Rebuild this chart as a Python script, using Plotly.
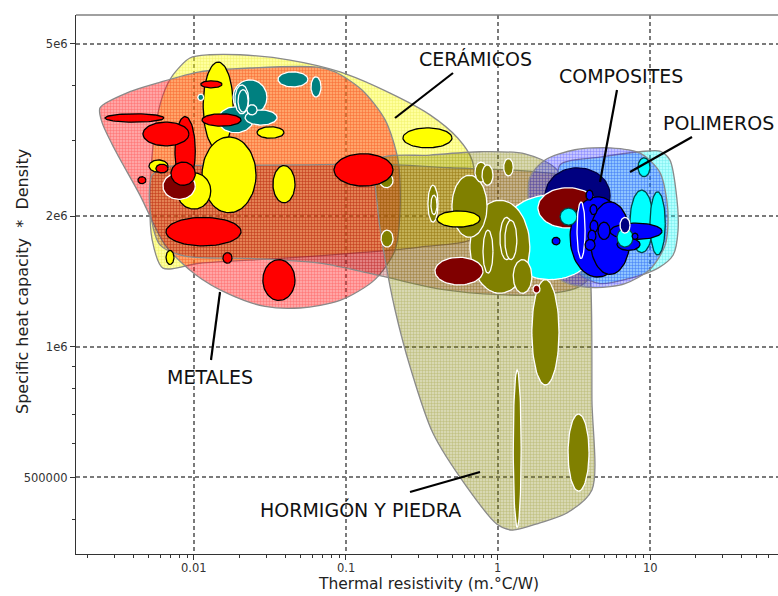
import numpy as np
import plotly.graph_objects as go

# ---------------- data ----------------
# Material-family envelopes (thermal resistivity [m.°C/W], Cp*rho [J/m3.K])
env_names = ["CERAMICOS", "METALES", "BANDA", "HORMIGON", "POLIMEROS", "COMPOSITES"]
env_ceram_x = [0.00728, 0.00941, 0.0127, 0.0201, 0.0428, 0.0914, 0.195, 0.357, 0.545, 0.675, 0.717, 0.695,
               0.307, 0.124, 0.0368, 0.0109, 0.00625, 0.0053, 0.00514, 0.00554, 0.00625]
env_ceram_y = [4.24e6, 4.64e6, 4.72e6, 4.72e6, 4.59e6, 4.31e6, 3.85e6, 3.43e6, 3.03e6, 2.70e6, 2.18e6, 1.79e6,
               1.70e6, 1.65e6, 1.60e6, 1.56e6, 1.52e6, 1.77e6, 2.30e6, 3.17e6, 3.81e6]
env_metal_x = [0.00241, 0.00379, 0.00571, 0.0109, 0.0234, 0.0645, 0.0847, 0.127, 0.181, 0.220, 0.227, 0.210,
               0.155, 0.0914, 0.0498, 0.0293, 0.0173, 0.0102, 0.00645, 0.00441, 0.00302, 0.00248]
env_metal_y = [3.56e6, 3.88e6, 4.06e6, 4.31e6, 4.40e6, 4.42e6, 4.31e6, 3.92e6, 3.34e6, 2.70e6, 2.07e6, 1.67e6,
               1.43e6, 1.28e6, 1.23e6, 1.24e6, 1.32e6, 1.47e6, 1.72e6, 2.24e6, 2.85e6, 3.30e6]
env_band_x = [0.0053, 0.00645, 0.0148, 0.0498, 0.167, 0.483, 1.20, 2.56, 4.35, 5.46, 4.69, 3.46,
              1.89, 1.03, 0.415, 0.167, 0.0675, 0.0234, 0.00873, 0.00597, 0.00514]
env_band_y = [2.49e6, 2.60e6, 2.62e6, 2.63e6, 2.64e6, 2.59e6, 2.56e6, 2.49e6, 2.30e6, 1.96e6, 1.55e6, 1.38e6,
              1.32e6, 1.32e6, 1.36e6, 1.46e6, 1.56e6, 1.60e6, 1.62e6, 1.72e6, 2.07e6]
env_stone_x = [0.162, 0.357, 0.762, 1.505, 2.37, 3.46, 4.03, 4.15, 4.15, 2.84, 1.89, 1.24,
               0.985, 0.625, 0.373, 0.264, 0.210, 0.181, 0.162]
env_stone_y = [2.70e6, 2.77e6, 2.82e6, 2.79e6, 2.59e6, 2.07e6, 1.51e6, 7.55e5, 4.68e5, 4.14e5, 3.93e5, 3.78e5,
               3.90e5, 4.75e5, 6.33e5, 9.0e5, 1.22e6, 1.59e6, 2.07e6]
env_poly_x = [2.56, 4.69, 8.60, 11.6, 13.5, 14.8, 15.3, 14.2, 11.3, 7.39, 4.69, 3.46, 2.98, 2.56]
env_poly_y = [2.63e6, 2.74e6, 2.82e6, 2.83e6, 2.70e6, 2.30e6, 1.86e6, 1.63e6, 1.52e6, 1.44e6, 1.40e6, 1.47e6,
              1.77e6, 2.18e6]
env_comp_x = [1.62, 2.04, 3.21, 5.46, 8.60, 11.6, 13.1, 12.6, 10.0, 6.85, 4.35, 2.76, 1.89, 1.62]
env_comp_y = [2.46e6, 2.70e6, 2.85e6, 2.88e6, 2.80e6, 2.53e6, 2.07e6, 1.72e6, 1.51e6, 1.40e6, 1.37e6, 1.41e6,
              1.59e6, 1.96e6]

# Individual materials: property ranges (min/max) and family
mat_group = [
    "polymer_w", "navy", "darkred", "blue", "blue", "polymer", "blue", "blue", "blue", "blue_ring",
    "blue", "blue", "blue", "blue", "polymer", "polymer", "blue", "blue", "polymer", "navy_ring",
    "blue", "polymer",
    "stone", "stone", "stone", "stone", "stone", "stone", "stone", "stone", "stone", "stone",
    "stone", "stone", "stone", "stone", "stone", "stone", "ceramic", "ceramic", "darkred", "darkred",
    "metal", "metal", "metal", "ceramic", "metal", "ceramic", "ceramic", "teal", "teal", "ceramic",
    "ceramic", "teal", "teal", "teal", "teal", "teal", "teal", "teal", "metal", "metal",
    "metal", "metal", "metal", "ceramic", "metal", "metal", "ceramic", "darkred", "metal",
]
mat_x_lo = [
    1.03, 2.04, 1.83, 2.98, 4.03, 2.56, 2.27, 3.79, 4.03, 3.31,
    4.03, 3.91, 4.55, 3.74, 7.39, 10.0, 5.46, 6.07, 6.07, 6.35,
    7.62, 8.34,
    0.654, 0.498, 0.706, 0.785, 1.09, 0.346, 0.362, 0.797, 1.03, 1.11,
    1.26, 0.167, 0.170, 1.67, 1.26, 2.89, 0.397, 0.237, 0.385, 1.70,
    0.0834, 0.0284, 0.00655, 0.00655, 0.0155, 0.0331, 0.0260, 0.0357, 0.0589, 0.0115,
    0.0113, 0.0181, 0.0144, 0.0217, 0.0186, 0.0195, 0.0223, 0.0106, 0.0111, 0.0113,
    0.0026, 0.0075, 0.00462, 0.00506, 0.00562, 0.00428, 0.00773, 0.00625, 0.00706,
]
mat_x_hi = [
    4.69, 5.46, 4.55, 6.85, 7.39, 3.31, 2.56, 4.22, 4.48, 3.74,
    4.55, 4.41, 5.46, 4.35, 10.5, 12.6, 12.0, 8.60, 7.73, 7.39,
    8.34, 10.0,
    1.62, 0.847, 0.847, 0.927, 1.26, 0.403, 0.397, 0.927, 1.26, 1.33,
    1.67, 0.204, 0.204, 2.52, 1.42, 3.97, 0.762, 0.498, 0.797, 1.89,
    0.204, 0.0462, 0.0204, 0.00739, 0.0178, 0.0462, 0.0391, 0.0562, 0.0685, 0.0181,
    0.0256, 0.0302, 0.0245, 0.0352, 0.0229, 0.0227, 0.0260, 0.0116, 0.0153, 0.0204,
    0.00635, 0.0102, 0.00927, 0.00675, 0.00675, 0.00483, 0.0129, 0.0102, 0.0102,
]
mat_y_lo = [
    1.43e6, 1.93e6, 1.88e6, 1.45e6, 1.47e6, 1.91e6, 1.72e6, 2.18e6, 2.02e6, 1.60e6,
    1.84e6, 1.75e6, 1.77e6, 1.67e6, 1.65e6, 1.63e6, 1.77e6, 1.67e6, 1.70e6, 1.83e6,
    1.77e6, 2.47e6,
    1.33e6, 1.79e6, 2.40e6, 2.36e6, 2.48e6, 1.94e6, 2.02e6, 1.48e6, 1.59e6, 1.59e6,
    1.33e6, 2.33e6, 1.70e6, 8.17e5, 3.84e5, 4.65e5, 1.89e6, 2.88e6, 1.39e6, 1.33e6,
    2.35e6, 1.28e6, 1.71e6, 1.55e6, 1.56e6, 2.15e6, 3.03e6, 3.98e6, 3.77e6, 2.85e6,
    2.04e6, 3.43e6, 3.12e6, 3.25e6, 3.45e6, 3.48e6, 3.43e6, 3.70e6, 3.96e6, 3.23e6,
    3.30e6, 2.36e6, 2.91e6, 2.53e6, 2.52e6, 2.38e6, 2.08e6, 2.19e6, 2.36e6,
]
mat_y_hi = [
    2.24e6, 2.59e6, 2.33e6, 2.22e6, 2.16e6, 2.09e6, 1.79e6, 2.30e6, 2.13e6, 2.16e6,
    1.96e6, 1.86e6, 1.94e6, 1.77e6, 2.30e6, 2.28e6, 1.93e6, 1.78e6, 1.88e6, 1.99e6,
    1.83e6, 2.73e6,
    2.18e6, 2.49e6, 2.67e6, 2.63e6, 2.72e6, 2.36e6, 2.24e6, 1.86e6, 1.99e6, 1.96e6,
    1.59e6, 2.51e6, 1.86e6, 1.43e6, 8.85e5, 7.0e5, 2.06e6, 3.20e6, 1.61e6, 1.39e6,
    2.79e6, 1.59e6, 1.99e6, 1.67e6, 1.65e6, 2.62e6, 3.22e6, 4.31e6, 4.20e6, 4.54e6,
    3.05e6, 4.13e6, 3.58e6, 3.52e6, 4.02e6, 3.92e6, 3.62e6, 3.83e6, 4.11e6, 3.45e6,
    3.45e6, 3.40e6, 3.30e6, 2.70e6, 2.64e6, 2.47e6, 2.52e6, 2.52e6, 2.67e6,
]

x_tick_vals = [0.01, 0.1, 1, 10]
x_tick_text = ["0.01", "0.1", "1", "10"]
y_tick_vals = [5e5, 1e6, 2e6, 5e6]
y_tick_text = ["500000", "1e6", "2e6", "5e6"]
x_minor_vals = [m * 10.0 ** e for e in range(-3, 2) for m in range(2, 10)]
y_minor_vals = [4e5, 6e5, 7e5, 8e5, 9e5, 3e6, 4e6]

labels = ["CERÁMICOS", "COMPOSITES", "POLIMEROS", "METALES", "HORMIGÓN Y PIEDRA"]

# ---------------- styles ----------------
ENV_STYLE = {
    "CERAMICOS": ("rgba(255,255,0,0.38)", "rgba(215,215,0,1)"),
    "METALES": ("rgba(255,30,30,0.40)", "rgba(255,0,0,1)"),
    "BANDA": ("rgba(128,0,0,0.22)", "rgba(128,0,0,1)"),
    "HORMIGON": ("rgba(128,128,0,0.30)", "rgba(128,128,0,1)"),
    "POLIMEROS": ("rgba(0,255,255,0.30)", "rgba(0,200,200,1)"),
    "COMPOSITES": ("rgba(60,60,255,0.30)", "rgba(0,0,255,1)"),
}
MAT_STYLE = {
    "metal": ("#ff0000", "#000000"),
    "ceramic": ("#ffff00", "#000000"),
    "darkred": ("#800000", "#ffffff"),
    "teal": ("#008080", "#ffffff"),
    "stone": ("#808000", "#ffffff"),
    "navy": ("#000080", "#000040"),
    "navy_ring": ("#000080", "#ffffff"),
    "blue": ("#0000ff", "#000000"),
    "blue_ring": ("#0000ff", "#ffffff"),
    "polymer": ("#00ffff", "#004848"),
    "polymer_w": ("#00ffff", "#ffffff"),
}
FONT = "DejaVu Sans"

env_data = {
    "CERAMICOS": (env_ceram_x, env_ceram_y),
    "METALES": (env_metal_x, env_metal_y),
    "BANDA": (env_band_x, env_band_y),
    "HORMIGON": (env_stone_x, env_stone_y),
    "POLIMEROS": (env_poly_x, env_poly_y),
    "COMPOSITES": (env_comp_x, env_comp_y),
}


def ellipse(xlo, xhi, ylo, yhi, n=72):
    lx0, lx1 = np.log10(xlo), np.log10(xhi)
    ly0, ly1 = np.log10(ylo), np.log10(yhi)
    t = np.linspace(0, 2 * np.pi, n)
    cx, rx = (lx0 + lx1) / 2, (lx1 - lx0) / 2
    cy, ry = (ly0 + ly1) / 2, (ly1 - ly0) / 2
    return 10 ** (cx + rx * np.cos(t)), 10 ** (cy + ry * np.sin(t))


fig = go.Figure()

for name in env_names:
    xs, ys = env_data[name]
    bg, fg = ENV_STYLE[name]
    fig.add_trace(go.Scatter(
        x=list(xs) + [xs[0]], y=list(ys) + [ys[0]],
        mode="lines", fill="toself", line=dict(color="#8a8a8a", width=1.3, shape="spline", smoothing=0.8),
        fillcolor=bg,
        fillpattern=dict(shape="+", size=3, solidity=0.25, fgcolor=fg, bgcolor=bg, fgopacity=0.4),
        hoverinfo="skip", showlegend=False,
    ))

for g, a, b, c, d in zip(mat_group, mat_x_lo, mat_x_hi, mat_y_lo, mat_y_hi):
    ex, ey = ellipse(a, b, c, d)
    fc, lc = MAT_STYLE[g]
    fig.add_trace(go.Scatter(
        x=ex, y=ey, mode="lines", fill="toself", fillcolor=fc,
        line=dict(color=lc, width=1.3), hoverinfo="skip", showlegend=False,
    ))

# ---------------- layout ----------------
W, H = 778, 596
L, R, T, B = 76, 0, 15, 42
pw, ph = W - L - R, H - T - B
X_RANGE = [np.log10(0.001675), np.log10(69.5)]
Y_RANGE = [np.log10(3.33e5), np.log10(5.83e6)]


def px(xp):
    return (xp - L) / pw


def py(yp):
    return (H - B - yp) / ph


label_pos = [(475, 59), (621, 76), (718, 123), (210, 377), (360, 509)]
pointer_lines = [((453, 73), (395, 118)), ((617, 90), (600, 182)), ((692, 137), (630, 172)),
                 ((220, 292), (211, 360)), ((480, 472), (410, 492))]

annotations = []
for txt, (ax_, ay_) in zip(labels, label_pos):
    annotations.append(dict(text=txt, x=px(ax_), y=py(ay_), xref="paper", yref="paper",
                            xanchor="center", yanchor="middle",
                            showarrow=False, font=dict(family=FONT, size=19, color="#111")))
# x tick labels (placed from the log scale of the axis)
for v, t in zip(x_tick_vals, x_tick_text):
    xf = (np.log10(v) - X_RANGE[0]) / (X_RANGE[1] - X_RANGE[0])
    annotations.append(dict(text=t, x=xf, y=py(568), xref="paper", yref="paper",
                            xanchor="center", yanchor="middle", showarrow=False,
                            font=dict(family=FONT, size=11.5, color="#333")))
annotations.append(dict(text="Thermal resistivity (m.°C/W)", x=px(429), y=py(584), xref="paper", yref="paper",
                        xanchor="center", yanchor="middle",
                        showarrow=False, font=dict(family=FONT, size=15.5, color="#222")))
annotations.append(dict(text="Specific heat capacity  *  Density", x=px(22), y=py(282), xref="paper",
                        yref="paper", textangle=-90, xanchor="center", yanchor="middle", showarrow=False,
                        font=dict(family=FONT, size=16, color="#222")))

shapes = []
for (p0, p1) in pointer_lines:
    shapes.append(dict(type="line", xref="paper", yref="paper", x0=px(p0[0]), y0=py(p0[1]),
                       x1=px(p1[0]), y1=py(p1[1]), line=dict(color="#000", width=2.2)))
shapes.append(dict(type="line", xref="paper", yref="paper", x0=0, x1=1, y0=1, y1=1,
                   line=dict(color="#808080", width=1.3)))

axis_common = dict(
    type="log", showgrid=True, gridcolor="#7a7a7a", griddash="4px,3px", gridwidth=1.5,
    ticks="outside", ticklen=5, tickcolor="#333", showline=True, linecolor="#333", linewidth=1.3,
    tickfont=dict(family=FONT, size=11.5, color="#333"), zeroline=False,
)
fig.update_layout(
    width=W, height=H, margin=dict(l=L, r=R, t=T, b=B),
    paper_bgcolor="white", plot_bgcolor="white",
    xaxis=dict(range=X_RANGE, tickvals=x_tick_vals, ticktext=x_tick_text, showticklabels=False,
               minor=dict(tickvals=x_minor_vals, ticks="outside", ticklen=3, tickcolor="#333", showgrid=False),
               **axis_common),
    yaxis=dict(range=Y_RANGE, tickvals=y_tick_vals, ticktext=y_tick_text,
               minor=dict(tickvals=y_minor_vals, ticks="outside", ticklen=3, tickcolor="#333", showgrid=False),
               **axis_common),
    annotations=annotations, shapes=shapes, showlegend=False,
)

fig.write_html("out.html")
